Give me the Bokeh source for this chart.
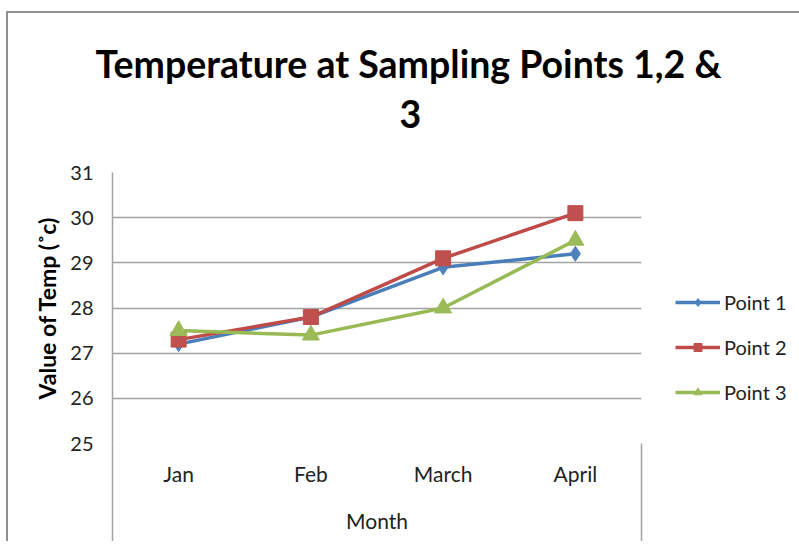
from bokeh.plotting import figure
from bokeh.models import (Range1d, FixedTicker, Legend, LegendItem, Title)
from bokeh.embed import file_html
from bokeh.resources import INLINE

months = ["Jan", "Feb", "March", "April"]
point1 = [27.2, 27.8, 28.9, 29.2]
point2 = [27.3, 27.8, 29.1, 30.1]
point3 = [27.5, 27.4, 28.0, 29.5]
y_ticks = [25, 26, 27, 28, 29, 30, 31]
series_names = ["Point 1", "Point 2", "Point 3"]
title_line1 = "Temperature at Sampling Points 1,2 &"
title_line2 = "3"
x_title = "Month"
y_title = "Value of Temp (\u02dac)"

FONT = "Lato"
GRID = "#a3a3a3"
TXT = "#222222"
OX, OY = 8, 13   # canvas origin inside the outer chart border

# category slots: each month occupies one unit, centred at i + 0.5
xpos = [i + 0.5 for i in range(len(months))]

p = figure(width=795 - OX, height=541 - OY, frame_width=529, frame_height=271,
           x_range=Range1d(0, len(months)), y_range=Range1d(25, 31),
           output_backend="svg", toolbar_location=None, title=None,
           min_border_left=112 - OX, min_border_right=154, min_border_top=172 - OY,
           min_border_bottom=98, margin=(OY - 2, 0, 0, OX - 2),
           styles={"border-left": "2px solid #8f8f8f", "border-top": "2px solid #8f8f8f"})
p.outline_line_color = None
p.background_fill_color = "white"
p.border_fill_color = "white"

# titles (first added is nearest the frame)
t2 = Title(text=title_line2, align="left", offset=287, text_font=FONT, text_font_size="37.5px",
           text_font_style="bold", text_color="#000000", vertical_align="middle", standoff=87)
t1 = Title(text=title_line1, align="left", offset=-17, text_font=FONT, text_font_size="37.5px",
           text_font_style="bold", text_color="#000000", standoff=-60)
p.add_layout(t2, "above")
p.add_layout(t1, "above")

# y axis
p.yaxis.ticker = FixedTicker(ticks=y_ticks)
p.yaxis.axis_line_color = GRID
p.yaxis.axis_line_width = 1.5
p.yaxis.major_tick_line_color = None
p.yaxis.minor_tick_line_color = None
p.yaxis.major_tick_out = 0
p.yaxis.major_label_standoff = 19
p.yaxis.major_label_text_font = FONT
p.yaxis.major_label_text_font_size = "20px"
p.yaxis.major_label_text_color = TXT
p.yaxis.axis_label = y_title
p.yaxis.axis_label_text_font = FONT
p.yaxis.axis_label_text_font_size = "23px"
p.yaxis.axis_label_text_font_style = "bold"
p.yaxis.axis_label_text_color = "#000000"
p.yaxis.axis_label_standoff = 6

p.ygrid.ticker = FixedTicker(ticks=y_ticks)
p.ygrid.grid_line_color = GRID
p.ygrid.grid_line_width = 1.5
p.xgrid.grid_line_color = None

# x axis: month labels at slot centres, slot box edges as long minor ticks
xa = p.xaxis[0]
xa.ticker = FixedTicker(ticks=xpos, minor_ticks=[0, len(months)])
xa.major_label_overrides = {x: m for x, m in zip(xpos, months)}
xa.axis_line_color = None
xa.major_tick_line_color = None
xa.major_tick_out = 0
xa.major_tick_in = 0
xa.minor_tick_line_color = GRID
xa.minor_tick_line_width = 1.5
xa.minor_tick_in = 0
xa.minor_tick_out = 98
xa.major_label_standoff = -81
xa.major_label_text_font = FONT
xa.major_label_text_font_size = "21px"
xa.major_label_text_color = TXT
xa.axis_label = x_title
xa.axis_label_text_font = FONT
xa.axis_label_text_font_size = "21px"
xa.axis_label_text_font_style = "normal"
xa.axis_label_text_color = TXT
xa.axis_label_standoff = 19

styles = [
    ("#4A7EBB", "#4F81BD", "diamond", 15),
    ("#BE4B48", "#C0504D", "square", 15),
    ("#98B954", "#9BBB59", "triangle", 17),
]
items = []
for name, vals, (lc, mc, mk, sz) in zip(series_names, [point1, point2, point3], styles):
    l = p.line(xpos, vals, line_color=lc, line_width=3.5)
    s = p.scatter(xpos, vals, marker=mk, size=sz, fill_color=mc, line_color=mc)
    items.append(LegendItem(label=name, renderers=[l, s]))

legend = Legend(items=items, location=(34, 39), orientation="vertical",
                glyph_width=45, glyph_height=20, label_height=20, spacing=21,
                label_standoff=4, padding=0, margin=0, border_line_color=None,
                background_fill_alpha=0, label_text_font=FONT, label_text_font_size="20px",
                label_text_color=TXT)
p.add_layout(legend, "right")

open("out.html", "w").write(file_html(p, INLINE))
